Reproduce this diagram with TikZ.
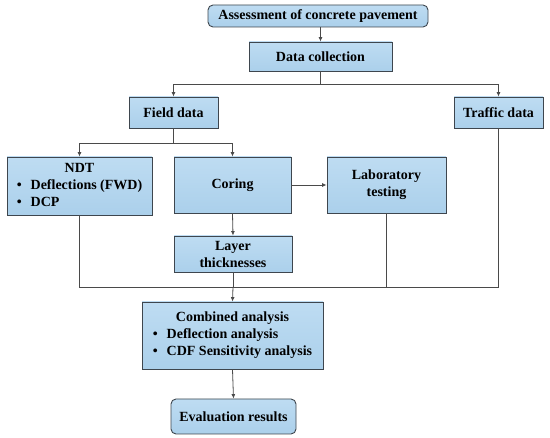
\documentclass[tikz,border=0pt]{standalone}
\usepackage{fontspec}
\setmainfont{Liberation Serif}
\usetikzlibrary{arrows.meta}
\definecolor{boxtop}{HTML}{BEDCF2}
\definecolor{boxbot}{HTML}{ABD0EB}
\definecolor{boxline}{HTML}{3E464E}
\definecolor{linecol}{HTML}{4A4A4A}
\tikzset{
  box/.style={draw=boxline, line width=0.9pt, top color=boxtop, bottom color=boxbot,
    align=center, inner sep=2pt, font=\fontsize{14}{17}\selectfont\bfseries},
  rbox/.style={box, rounded corners=5pt},
  conn/.style={draw=linecol, line width=0.8pt},
  arr/.style={conn, -{Latex[length=4.5pt,width=4pt]}}
}
\begin{document}
\begin{tikzpicture}[x=1pt,y=-1pt]
\useasboundingbox (0,0) rectangle (550,438);
\node[rbox, minimum width=220pt, minimum height=22pt] (top) at (318,16) {Assessment of concrete pavement};
\node[box, minimum width=143pt, minimum height=29pt] (data) at (320.5,56.5) {Data collection};
\node[box, minimum width=89pt, minimum height=31pt] (field) at (173.5,112.5) {Field data};
\node[box, minimum width=89pt, minimum height=31pt] (traffic) at (498.5,112.5) {Traffic data};
\node[box, minimum width=145pt, minimum height=58pt] (ndt) at (79.5,186) {\begin{tabular}{@{}c@{\hspace{9pt}}l@{}}\multicolumn{2}{c}{NDT}\\ \textbullet & Deflections (FWD)\\ \textbullet & DCP\end{tabular}};
\node[box, minimum width=117pt, minimum height=56pt] (coring) at (232.5,185) {Coring};
\node[box, minimum width=119pt, minimum height=56pt] (lab) at (386.5,185) {Laboratory\\testing};
\node[box, minimum width=118pt, minimum height=36pt] (layer) at (233,254) {Layer\\thicknesses};
\node[box, minimum width=181pt, minimum height=67pt] (comb) at (232.5,335.5) {\begin{tabular}{@{}c@{\hspace{9pt}}l@{}}\multicolumn{2}{c}{Combined analysis}\\ \textbullet & Deflection analysis\\ \textbullet & CDF Sensitivity analysis\end{tabular}};
\node[rbox, minimum width=125pt, minimum height=35pt] (eval) at (233.5,416.5) {Evaluation results};

\draw[arr] (top.south -| data.north) -- (data.north);
\coordinate (j1) at (data.south |- 0,84);
\draw[conn] (data.south) -- (j1);
\draw[arr] (j1) -| (field.north);
\draw[arr] (j1) -| (traffic.north);
\coordinate (j2) at (field.south |- 0,143);
\draw[conn] (field.south) -- (j2);
\draw[arr] (j2) -| (ndt.north);
\draw[arr] (j2) -| (coring.north);
\draw[arr] (coring.east) -- (lab.west);
\draw[arr] (coring.south) -- (layer.north);
\coordinate (j3) at (layer.south |- 0,287);
\draw[conn] (ndt.south) |- (j3);
\draw[conn] (traffic.south) |- (j3);
\draw[conn] (lab.south) |- (j3);
\draw[conn] (layer.south) -- (j3);
\draw[arr] (j3) -- (comb.north);
\draw[arr] (comb.south) -- (eval.north);
\end{tikzpicture}
\end{document}
